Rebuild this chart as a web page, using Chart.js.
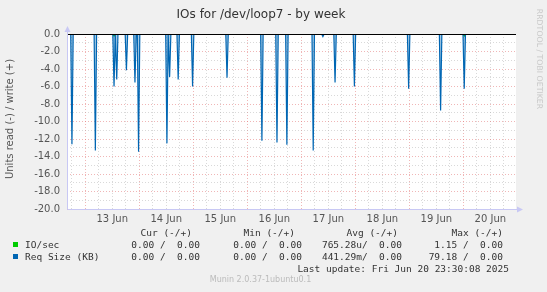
<!DOCTYPE html>
<html>
<head>
<meta charset="utf-8">
<script src="https://cdn.jsdelivr.net/npm/chart.js@4.4.1/dist/chart.umd.min.js"></script>
<style>
  html, body { margin: 0; padding: 0; background: #f0f0f0; }
  #wrap { position: relative; width: 547px; height: 292px; overflow: hidden; }
  #chart { position: absolute; left: 0; top: 0; }
  .t { position: absolute; white-space: pre; height: 12px; line-height: 12px; }
  .mono { font-family: "DejaVu Sans Mono", monospace; font-size: 9.5px; color: #333; }
  .sq { position: absolute; width: 5px; height: 5px; }
</style>
</head>
<body>
<div id="wrap">
  <canvas id="chart" width="547" height="292"></canvas>
  <div class="t" style="left:0;width:522px;top:7px;text-align:center;font:12px 'DejaVu Sans';color:#333;">IOs for /dev/loop7 - by week</div>
  <div class="t" style="left:-57px;top:113px;width:134px;text-align:center;font:10px 'DejaVu Sans';color:#555;transform:rotate(-90deg);">Units read (-) / write (+)</div>
  <div class="t" style="left:486px;top:53px;width:104px;text-align:center;font:7.8px 'DejaVu Sans';color:#c8c8c8;transform:rotate(90deg);">RRDTOOL / TOBI OETIKER</div>
  <div id="legend"></div>
  <div class="t mono" style="right:38px;top:263px;">Last update: Fri Jun 20 23:30:08 2025</div>
  <div class="t" style="left:160px;width:201px;top:275px;text-align:center;font:8px 'DejaVu Sans';color:#bbb;">Munin 2.0.37-1ubuntu0.1</div>
</div>
<script>
// hours since 13 Jun 00:00
const X_MIN = -8.1;
const X_MAX = 191.4;
const DAY_LABELS = ["13 Jun", "14 Jun", "15 Jun", "16 Jun", "17 Jun", "18 Jun", "19 Jun", "20 Jun"];

// Req Size (KB), read side (drawn negative)
const reqHours = [-5.9, 4.5, 12.8, 14.0, 18.3, 22.1, 23.7, 36.3, 37.5, 41.3, 47.7, 63.0,
  78.5, 85.2, 89.6, 101.3, 105.6, 111.0, 119.6, 143.7, 157.9, 168.4];
const reqRead = [-12.6, -13.3, -6.0, -5.2, -4.15, -5.55, -13.45, -12.5, -4.9, -5.2, -6.0, -5.0,
  -12.2, -12.4, -12.65, -13.3, -0.3, -5.55, -6.0, -6.25, -8.75, -6.25];

// IO/sec, read side
const ioHours = [12.8, 168.4];
const ioRead = [-0.2, -0.2];

// legend table
const SERIES = ["IO/sec", "Req Size (KB)"];
const SERIES_COLORS = ["#00cc00", "#0066b3"];
const CUR = ["0.00 /  0.00", "0.00 /  0.00"];
const MIN = ["0.00 /  0.00", "0.00 /  0.00"];
const AVG = ["765.28u/  0.00", "441.29m/  0.00"];
const MAX = ["1.15 /  0.00", "79.18 /  0.00"];

function spikes(hours, vals) {
  const pts = [{ x: X_MIN, y: 0 }];
  hours.forEach((h, i) => {
    pts.push({ x: h - 0.55, y: 0 }, { x: h, y: vals[i] }, { x: h + 0.55, y: 0 });
  });
  pts.push({ x: X_MAX, y: 0 });
  return pts;
}

function buildLegend() {
  const el = document.getElementById("legend");
  let html = "";
  const heads = [["Cur (-/+)", 192], ["Min (-/+)", 295], ["Avg (-/+)", 398], ["Max (-/+)", 503]];
  heads.forEach(([txt, r]) => {
    html += `<div class="t mono" style="right:${547 - r}px;top:227px;">${txt}</div>`;
  });
  SERIES.forEach((name, i) => {
    const y = 239 + i * 12;
    html += `<div class="sq" style="left:13px;top:${y + 3}px;background:${SERIES_COLORS[i]}"></div>`;
    html += `<div class="t mono" style="left:25px;top:${y}px;">${name}</div>`;
    [[CUR[i], 200], [MIN[i], 302], [AVG[i], 402], [MAX[i], 503]].forEach(([txt, r]) => {
      html += `<div class="t mono" style="right:${547 - r}px;top:${y}px;">${txt}</div>`;
    });
  });
  el.innerHTML = html;
}
buildLegend();

const muninFrame = {
  id: "muninFrame",
  beforeDraw(chart) {
    const { ctx, chartArea: a } = chart;
    ctx.save();
    ctx.fillStyle = "#ffffff";
    ctx.fillRect(a.left, a.top, a.right - a.left, a.bottom - a.top);
    ctx.restore();
  },
  afterDatasetsDraw(chart) {
    const { ctx, chartArea: a } = chart;
    const y0 = Math.round(chart.scales.y.getPixelForValue(0)) + 0.5;
    ctx.save();
    ctx.strokeStyle = "#000";
    ctx.lineWidth = 1;
    ctx.beginPath();
    ctx.moveTo(a.left, y0);
    ctx.lineTo(a.right, y0);
    ctx.stroke();

    // axes with arrows
    const ax = "#c8c8f4";
    const L = Math.round(a.left) + 0.5;
    const B = Math.round(a.bottom) + 0.5;
    ctx.strokeStyle = ax;
    ctx.fillStyle = ax;
    ctx.beginPath();
    ctx.moveTo(L, B);
    ctx.lineTo(L, a.top - 3);
    ctx.moveTo(L, B);
    ctx.lineTo(a.right + 3, B);
    ctx.stroke();
    ctx.beginPath();
    ctx.moveTo(L - 3, a.top - 2);
    ctx.lineTo(L, a.top - 8);
    ctx.lineTo(L + 3, a.top - 2);
    ctx.closePath();
    ctx.fill();
    ctx.beginPath();
    ctx.moveTo(a.right + 1, B - 3);
    ctx.lineTo(a.right + 7, B);
    ctx.lineTo(a.right + 1, B + 3);
    ctx.closePath();
    ctx.fill();
    ctx.restore();
  }
};

const MAJOR = "rgba(225,110,110,0.5)";
const MINOR = "rgba(170,170,170,0.45)";

new Chart(document.getElementById("chart"), {
  type: "line",
  data: {
    datasets: [
      {
        label: "Req Size (KB)",
        data: spikes(reqHours, reqRead),
        borderColor: "#0066b3",
        backgroundColor: "rgba(0,102,179,0.35)",
        borderWidth: 1.2,
        fill: "origin",
        pointRadius: 0,
        tension: 0
      },
      {
        label: "IO/sec",
        data: spikes(ioHours, ioRead),
        borderColor: "#00cc00",
        borderWidth: 1.5,
        fill: false,
        pointRadius: 0,
        tension: 0
      }
    ]
  },
  options: {
    responsive: false,
    animation: false,
    devicePixelRatio: 1,
    layout: { padding: { top: 34, right: 31, left: 0, bottom: 0 } },
    plugins: { legend: { display: false }, tooltip: { enabled: false } },
    scales: {
      x: {
        type: "linear",
        min: X_MIN,
        max: X_MAX,
        afterBuildTicks: (s) => {
          const t = [];
          for (let h = -6; h <= X_MAX; h += 6) t.push({ value: h });
          s.ticks = t;
        },
        afterFit: (s) => { s.height = 83; },
        ticks: {
          autoSkip: false,
          maxRotation: 0,
          padding: 4,
          color: "#555",
          font: { family: "DejaVu Sans", size: 10 },
          callback: (v) => (((v % 24) + 24) % 24 === 12 ? DAY_LABELS[(v - 12) / 24] : "")
        },
        grid: {
          drawTicks: false,
          lineWidth: 1,
          color: (c) => (c.tick && ((c.tick.value % 24) + 24) % 24 === 0 ? MAJOR : MINOR)
        },
        border: { display: false, dash: [1, 2] }
      },
      y: {
        min: -20,
        max: 0,
        afterFit: (s) => { s.width = 67; },
        ticks: {
          stepSize: 1,
          autoSkip: false,
          padding: 7,
          color: "#555",
          font: { family: "DejaVu Sans", size: 10 },
          callback: (v) => (Math.round(v) % 2 === 0 ? (v === 0 ? "0.0" : v.toFixed(1)) : "")
        },
        grid: {
          drawTicks: false,
          lineWidth: 1,
          color: (c) => (c.tick && Math.round(c.tick.value) % 2 === 0 ? MAJOR : MINOR)
        },
        border: { display: false, dash: [1, 2] }
      }
    }
  },
  plugins: [muninFrame]
});
</script>
</body>
</html>
